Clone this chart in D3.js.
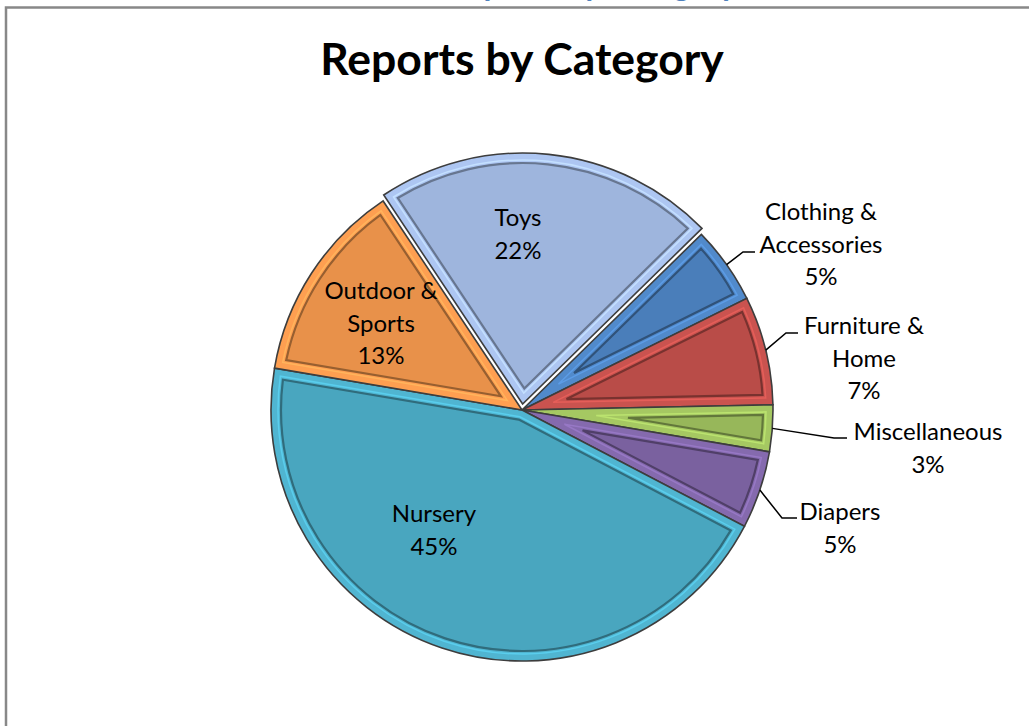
<!DOCTYPE html>
<html>
<head>
<meta charset="utf-8">
<script src="https://cdn.jsdelivr.net/npm/d3@7"></script>
<style>
  body { margin: 0; background: #fff; }
  svg { display: block; }
  text { font-family: Lato, "Open Sans", sans-serif; }
</style>
</head>
<body>
<svg id="chart" width="1029" height="726"></svg>
<script>
// data, clockwise from the exploded Toys slice
const categories = ["Toys", "Clothing & Accessories", "Furniture & Home", "Miscellaneous", "Diapers", "Nursery", "Outdoor & Sports"];
const shares = [22, 5, 7, 3, 5, 45, 13];
const colors = ["#9eb5dd", "#4a7eba", "#b94c48", "#97b75a", "#7a619f", "#49a6bf", "#e8914a"];
const labelLines = [["Toys"], ["Clothing &", "Accessories"], ["Furniture &", "Home"], ["Miscellaneous"], ["Diapers"], ["Nursery"], ["Outdoor &", "Sports"]];

// layout of the label text (not data)
const labelPos = {
  "Toys": { x: 518, y: 218 },
  "Clothing & Accessories": { x: 821, y: 212, leader: [[743, 252], [755, 252]] },
  "Furniture & Home": { x: 864, y: 326, leader: [[786, 333], [798, 333]] },
  "Miscellaneous": { x: 928, y: 432, leader: [[834, 438], [847, 438]] },
  "Diapers": { x: 840, y: 512, leader: [[782, 518], [797, 518]] },
  "Nursery": { x: 434, y: 514 },
  "Outdoor & Sports": { x: 381, y: 291 }
}

const svg = d3.select("#chart")
const cx = 522, cy = 410, R = 251
const rot = -33.6 * Math.PI / 180
const explode = { "Toys": 6 }
const total = d3.sum(shares)
const pct = d3.format(".0%")

// frame
svg.append("rect")
  .attr("x", 6).attr("y", 7.5).attr("width", 1100).attr("height", 800)
  .attr("fill", "none").attr("stroke", "#888").attr("stroke-width", 2.5)

// heading of the page above, cut off by the top edge
svg.append("text")
  .attr("x", 592).attr("y", -4)
  .attr("text-anchor", "middle")
  .attr("font-size", 32).attr("font-weight", "bold")
  .attr("fill", "#4f81bd")
  .text("Reports by Category")

svg.append("text")
  .attr("x", cx).attr("y", 75)
  .attr("text-anchor", "middle")
  .attr("font-size", 44.5).attr("font-weight", "bold")
  .attr("fill", "#000")
  .text("Reports by Category")

const pie = d3.pie().sort(null).value(d => d).startAngle(rot).endAngle(rot + 2 * Math.PI)
const arcs = pie(shares)
const arc = d3.arc().innerRadius(0).outerRadius(R)
const edgeArc = d3.arc().innerRadius(R).outerRadius(R)

// slice shrunk by d px on every side, for the bevel
function insetPath(a0, a1, r, d) {
  const mid = (a0 + a1) / 2, half = (a1 - a0) / 2
  const ad = d / Math.sin(half)
  const r2 = r - d
  const da = Math.asin(d / r2)
  const b0 = a0 + da, b1 = a1 - da
  const apex = [Math.sin(mid) * ad, -Math.cos(mid) * ad]
  const p0 = [r2 * Math.sin(b0), -r2 * Math.cos(b0)]
  const p1 = [r2 * Math.sin(b1), -r2 * Math.cos(b1)]
  const large = (b1 - b0) > Math.PI ? 1 : 0
  return `M${apex}L${p0}A${r2},${r2} 0 ${large} 1 ${p1}Z`
}

const g = svg.append("g").attr("transform", `translate(${cx},${cy})`)

const slice = g.selectAll("g.slice")
  .data(arcs)
  .enter()
  .append("g")
  .attr("class", "slice")
  .attr("transform", (d, i) => {
    const e = explode[categories[i]] || 0
    const mid = (d.startAngle + d.endAngle) / 2
    return `translate(${Math.sin(mid) * e},${-Math.cos(mid) * e})`
  })

slice.append("path")
  .attr("d", arc)
  .attr("fill", (d, i) => d3.color(colors[i]).brighter(0.25))
  .attr("stroke", "#3d3d3d")
  .attr("stroke-width", 1.6)

slice.append("path")
  .attr("d", d => insetPath(d.startAngle, d.endAngle, R, 7))
  .attr("fill", "none")
  .attr("stroke", (d, i) => d3.color(colors[i]).brighter(0.6))
  .attr("stroke-width", 1.5)

slice.append("path")
  .attr("d", d => insetPath(d.startAngle, d.endAngle, R, 10))
  .attr("fill", (d, i) => colors[i])
  .attr("stroke", (d, i) => d3.color(colors[i]).darker(1.2))
  .attr("stroke-width", 2.2)

// leader lines
arcs.forEach((d, i) => {
  const lp = labelPos[categories[i]]
  if (!lp.leader) return
  const c = edgeArc.centroid(d)
  const pts = [[c[0] + cx, c[1] + cy]].concat(lp.leader)
  svg.append("path")
    .attr("d", d3.line()(pts))
    .attr("fill", "none")
    .attr("stroke", "#000")
    .attr("stroke-width", 1.5)
})

// data labels
arcs.forEach((d, i) => {
  const lp = labelPos[categories[i]]
  const lines = labelLines[i].concat([pct(shares[i] / total)])
  const t = svg.append("text")
    .attr("text-anchor", "middle")
    .attr("font-size", 24)
    .attr("fill", "#000")
  lines.forEach((s, k) => {
    t.append("tspan")
      .attr("x", lp.x)
      .attr("y", lp.y + k * 32.5)
      .attr("dy", "0.35em")
      .text(s)
  })
})
</script>
</body>
</html>
